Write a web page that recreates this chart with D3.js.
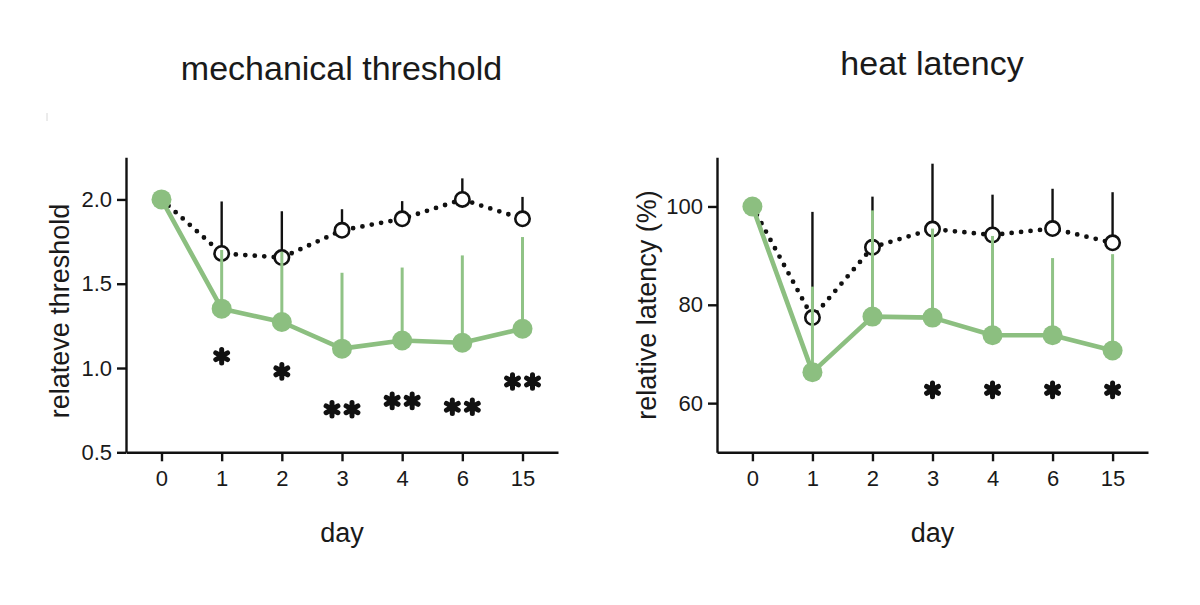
<!DOCTYPE html>
<html>
<head>
<meta charset="utf-8">
<script src="https://cdn.jsdelivr.net/npm/d3@7"></script>
<style>
  html, body { margin: 0; padding: 0; background: #fff; }
  svg { display: block; }
  text { font-family: "Liberation Sans", Arial, Helvetica, sans-serif; fill: #1a1a1a; }
</style>
</head>
<body>
<svg id="chart" width="1200" height="605"></svg>
<script>
// ---- data ----
const days = ["0", "1", "2", "3", "4", "6", "15"];

// mechanical threshold
const mechCtrl      = [2.0, 1.68, 1.655, 1.817, 1.885, 2.0, 1.885];
const mechCtrlTop   = [2.0, 1.988, 1.93, 1.942, 1.99, 2.125, 2.015];
const mechTreat     = [2.0, 1.352, 1.273, 1.115, 1.163, 1.15, 1.233];
const mechTreatTop  = [2.0, 1.70, 1.69, 1.565, 1.596, 1.668, 1.777];
const mechStars     = [0, 1, 1, 2, 2, 2, 2];
const mechStarY     = [null, 1.07, 0.98, 0.755, 0.805, 0.77, 0.92];
const mechTicks     = [0.5, 1.0, 1.5, 2.0];

// heat latency
const heatCtrl      = [100, 77.4, 91.7, 95.4, 94.2, 95.5, 92.6];
const heatCtrlTop   = [100, 98.9, 102.0, 108.7, 102.4, 103.6, 102.9];
const heatTreat     = [100, 66.3, 77.6, 77.4, 73.8, 73.8, 70.7];
const heatTreatTop  = [100, 83.7, 99.2, 95.5, 94.0, 89.5, 90.3];
const heatStars     = [0, 0, 0, 1, 1, 1, 1];
const heatStarY     = [null, null, null, 62.7, 62.7, 62.7, 62.7];
const heatTicks     = [60, 80, 100];

const GREEN = "#8cbf80";
const GREEN_BAR = "#90c386";

const svg = d3.select("#chart");

// faint artifact mark
svg.append("line").attr("x1", 47).attr("x2", 47).attr("y1", 113).attr("y2", 121)
  .attr("stroke", "#d8d8d8").attr("stroke-width", 1);

function panel(cfg) {
  const g = svg.append("g");
  const x = d3.scalePoint().domain(days).range([cfg.x0, cfg.x1]).padding(0.59);
  const y = d3.scaleLinear().domain(cfg.domain).range([452.3, 157.3]);

  // axes
  const xa = g.append("g").attr("transform", `translate(0,452.3)`)
    .call(d3.axisBottom(x).tickSize(9).tickPadding(9).tickSizeOuter(0));
  const ya = g.append("g").attr("transform", `translate(${cfg.x0},0)`)
    .call(d3.axisLeft(y).tickValues(cfg.ticks).tickFormat(cfg.fmt).tickSize(9).tickPadding(5).tickSizeOuter(0));
  [xa, ya].forEach(a => {
    a.selectAll("path.domain").attr("stroke", "#111").attr("stroke-width", 2.4);
    a.selectAll(".tick line").attr("stroke", "#111").attr("stroke-width", 2.4);
    a.selectAll(".tick text").style("font-size", "22px").attr("fill", "#222");
  });

  const idx = d3.range(days.length);

  // control error bars (black)
  g.append("g").selectAll("line").data(idx).join("line")
    .attr("x1", i => x(days[i])).attr("x2", i => x(days[i]))
    .attr("y1", i => y(cfg.ctrl[i])).attr("y2", i => y(cfg.ctrlTop[i]))
    .attr("stroke", "#111").attr("stroke-width", 2.4);

  // control dotted line
  g.append("path").datum(idx)
    .attr("d", d3.line().x(i => x(days[i])).y(i => y(cfg.ctrl[i])))
    .attr("fill", "none").attr("stroke", "#111").attr("stroke-width", 4.8)
    .attr("stroke-linecap", "round").attr("stroke-dasharray", "0 9.5");

  // control open circles
  g.append("g").selectAll("circle").data(idx).join("circle")
    .attr("cx", i => x(days[i])).attr("cy", i => y(cfg.ctrl[i])).attr("r", 7.2)
    .attr("fill", "#fff").attr("stroke", "#111").attr("stroke-width", 2.6);

  // treated error bars (green)
  g.append("g").selectAll("line").data(idx).join("line")
    .attr("x1", i => x(days[i])).attr("x2", i => x(days[i]))
    .attr("y1", i => y(cfg.treat[i])).attr("y2", i => y(cfg.treatTop[i]))
    .attr("stroke", GREEN_BAR).attr("stroke-width", 3);

  // treated line
  g.append("path").datum(idx)
    .attr("d", d3.line().x(i => x(days[i])).y(i => y(cfg.treat[i])))
    .attr("fill", "none").attr("stroke", GREEN).attr("stroke-width", 4.6)
    .attr("stroke-linejoin", "round");

  // treated filled circles
  g.append("g").selectAll("circle").data(idx).join("circle")
    .attr("cx", i => x(days[i])).attr("cy", i => y(cfg.treat[i])).attr("r", 10)
    .attr("fill", GREEN);

  // significance asterisks
  const starPath = d3.symbol(d3.symbolAsterisk).size(130)();
  const starData = [];
  idx.forEach(i => {
    const n = cfg.stars[i];
    for (let k = 0; k < n; k++) {
      const off = n === 1 ? 0 : (k === 0 ? -cfg.pairOff : cfg.pairOff);
      starData.push({ i, off });
    }
  });
  g.append("g").selectAll("path").data(starData).join("path")
    .attr("d", starPath)
    .attr("transform", d => `translate(${x(days[d.i]) + d.off},${y(cfg.starY[d.i])})`)
    .attr("fill", "none").attr("stroke", "#111").attr("stroke-width", 5)
    .attr("stroke-linecap", "round");

  // titles and labels
  g.append("text").attr("x", cfg.titleX).attr("y", cfg.titleY)
    .attr("text-anchor", "middle").style("font-size", "34px").text(cfg.title);
  g.append("text").attr("x", (x(days[0]) + x(days[days.length - 1])) / 2).attr("y", 542)
    .attr("text-anchor", "middle").style("font-size", "27px").attr("fill", "#222").text("day");
  g.append("text")
    .attr("transform", `translate(${cfg.ylabX},${cfg.ylabY}) rotate(-90)`)
    .attr("text-anchor", "middle").attr("dy", "0.35em")
    .style("font-size", "27px").attr("fill", "#222").text(cfg.ylabel);
}

panel({
  x0: 126, x1: 558, domain: [0.5, 2.25], ticks: mechTicks, fmt: d3.format(".1f"),
  ctrl: mechCtrl, ctrlTop: mechCtrlTop, treat: mechTreat, treatTop: mechTreatTop,
  stars: mechStars, starY: mechStarY, pairOff: 10,
  title: "mechanical threshold", titleX: 341.5, titleY: 80,
  ylabel: "relateve threshold", ylabX: 60, ylabY: 311
});

panel({
  x0: 717, x1: 1148, domain: [50, 110], ticks: heatTicks, fmt: d3.format("d"),
  ctrl: heatCtrl, ctrlTop: heatCtrlTop, treat: heatTreat, treatTop: heatTreatTop,
  stars: heatStars, starY: heatStarY, pairOff: 10,
  title: "heat latency", titleX: 932, titleY: 75,
  ylabel: "relative latency (%)", ylabX: 647, ylabY: 305
});
</script>
</body>
</html>
